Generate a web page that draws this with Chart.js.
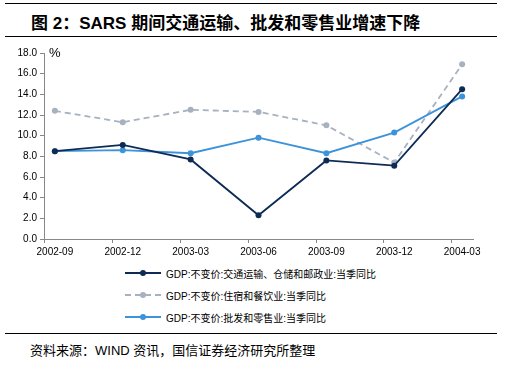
<!DOCTYPE html>
<html>
<head>
<meta charset="utf-8">
<script src="https://cdn.jsdelivr.net/npm/chart.js@4"></script>
<style>
  body { margin: 0; width: 505px; height: 365px; background: #fff; position: relative; overflow: hidden;
         font-family: "Liberation Sans", "Noto Sans CJK SC", sans-serif; }
  .rule { position: absolute; left: 5px; width: 492px; height: 0; border-top: 1.5px solid #000; }
  #title { position: absolute; left: 31px; top: 9px; font-size: 17px; font-weight: bold; white-space: nowrap; }
  #wrap { position: absolute; left: 0; top: 40px; width: 505px; height: 220px; }
  #legend { position: absolute; left: 125px; top: 262px; font-size: 10px; }
  #legend div { height: 22px; display: flex; align-items: center; white-space: nowrap; }
  #legend svg { margin-right: 5px; }
  #source { position: absolute; left: 30px; top: 340px; font-size: 13px; white-space: nowrap; }
</style>
</head>
<body>
<div class="rule" style="top:3px"></div>
<div id="title">图 2：SARS 期间交通运输、批发和零售业增速下降</div>
<div class="rule" style="top:36px"></div>
<div id="wrap"><canvas id="chart"></canvas></div>
<div id="legend"></div>
<div class="rule" style="top:333px"></div>
<div id="source">资料来源：WIND 资讯，国信证券经济研究所整理</div>
<script>
// quarters on the x axis
const quarters = ['2002-09', '2002-12', '2003-03', '2003-06', '2003-09', '2003-12', '2004-03'];

// GDP constant price, yoy %
const transport = [8.5, 9.1, 7.7, 2.3, 7.6, 7.1, 14.5];
const hotelFood = [12.4, 11.3, 12.5, 12.3, 11.0, 7.4, 16.9];
const retail = [8.5, 8.6, 8.3, 9.8, 8.3, 10.3, 13.8];

const seriesNames = [
  'GDP:不变价:交通运输、仓储和邮政业:当季同比',
  'GDP:不变价:住宿和餐饮业:当季同比',
  'GDP:不变价:批发和零售业:当季同比'
];

const yTicks = [0, 2, 4, 6, 8, 10, 12, 14, 16, 18];

const colors = ['#0d2b55', '#a7b1c0', '#3d93da'];
const dashes = [[], [6, 4], []];

function toPoints(arr) {
  return arr.map((v, i) => ({ x: i, y: v }));
}

const datasets = [transport, hotelFood, retail].map((arr, k) => ({
  label: seriesNames[k],
  data: toPoints(arr),
  borderColor: colors[k],
  backgroundColor: colors[k],
  borderWidth: 1.8,
  borderDash: dashes[k],
  pointRadius: 3,
  pointBorderWidth: 0,
  tension: 0
}));

// draw the order like the picture: grey dashed behind
const drawOrder = [1, 2, 0];
drawOrder.forEach((k, i) => { datasets[k].order = 3 - i; });

// "%" unit and offset tick marks on the x axis
const extras = {
  id: 'extras',
  afterDraw(chart) {
    const ctx = chart.ctx;
    const x = chart.scales.x, y = chart.scales.y;
    ctx.save();
    ctx.fillStyle = '#000';
    ctx.font = '13px "Liberation Sans"';
    ctx.textBaseline = 'top';
    ctx.fillText('%', x.left + 5, y.top - 6);
    ctx.strokeStyle = '#888';
    ctx.lineWidth = 1;
    for (let i = 0; i < quarters.length; i++) {
      const px = Math.round(x.getPixelForValue(i - 0.16)) + 0.5;
      ctx.beginPath();
      ctx.moveTo(px, y.bottom);
      ctx.lineTo(px, y.bottom + 4);
      ctx.stroke();
    }
    ctx.restore();
  }
};

new Chart(document.getElementById('chart'), {
  type: 'line',
  data: { datasets: datasets },
  options: {
    responsive: true,
    maintainAspectRatio: false,
    animation: false,
    layout: { padding: { top: 13, right: 32, left: 0, bottom: 0 } },
    plugins: { legend: { display: false }, tooltip: { enabled: false } },
    scales: {
      x: {
        type: 'linear',
        min: -0.16,
        max: 6.16,
        afterFit: s => { s.height = 21; },
        afterBuildTicks: s => { s.ticks = quarters.map((q, i) => ({ value: i })); },
        ticks: {
          autoSkip: false,
          maxRotation: 0,
          padding: 7,
          color: '#000',
          font: { family: 'Liberation Sans', size: 10 },
          callback: v => quarters[v]
        },
        grid: { display: false, drawTicks: false },
        border: { color: '#888', width: 1 }
      },
      y: {
        min: 0,
        max: 18,
        afterFit: s => { s.width = 44; },
        afterBuildTicks: s => { s.ticks = yTicks.map(v => ({ value: v })); },
        ticks: {
          padding: 3,
          color: '#000',
          font: { family: 'Liberation Sans', size: 10 },
          callback: v => v.toFixed(1)
        },
        grid: { drawOnChartArea: false, tickLength: 4, color: '#888' },
        border: { color: '#888', width: 1 }
      }
    }
  },
  plugins: [extras]
});

// legend built from the same series
const legend = document.getElementById('legend');
seriesNames.forEach((name, k) => {
  const row = document.createElement('div');
  const dash = dashes[k].length ? ` stroke-dasharray="${dashes[k].join(' ')}"` : '';
  row.innerHTML = `<svg width="36" height="10"><line x1="0" y1="5" x2="36" y2="5" stroke="${colors[k]}" stroke-width="1.8"${dash}/><circle cx="18" cy="5" r="3" fill="${colors[k]}"/></svg><span>${name}</span>`;
  legend.appendChild(row);
});
</script>
</body>
</html>
